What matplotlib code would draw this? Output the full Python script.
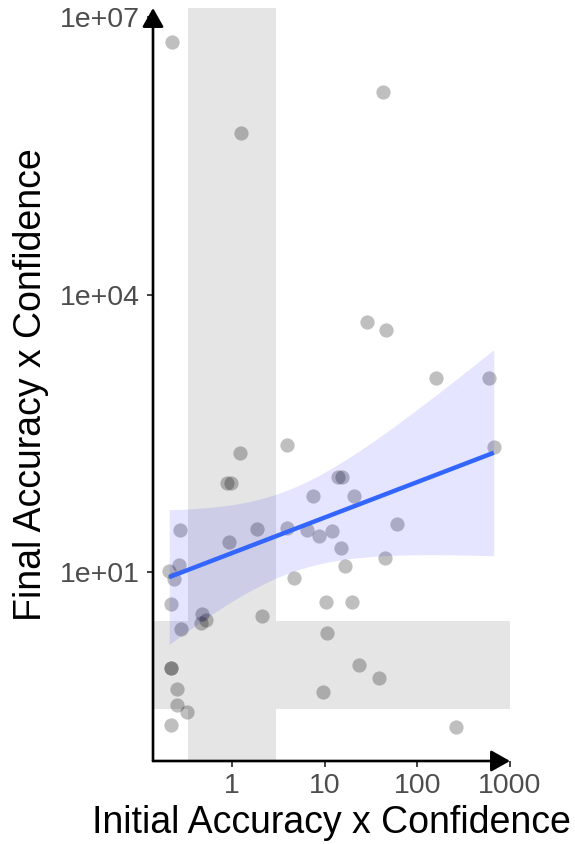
import numpy as np
import matplotlib
matplotlib.use("Agg")
import matplotlib.pyplot as plt
from matplotlib.ticker import FixedLocator, NullLocator

plt.rcParams['font.family'] = ['Liberation Sans', 'DejaVu Sans']

# ---- data ----
initial_acc_conf = [0.225, 1.24, 43, 29, 46, 160, 595, 1.21, 3.87, 0.88,
                    0.98, 14.1, 15.3, 7.5, 0.273, 0.92, 1.88, 3.88, 6.4, 8.76,
                    11.9, 14.9, 0.209, 0.265, 0.235, 4.69, 16.4, 20.8, 60.4, 44.4,
                    673, 0.219, 0.478, 0.466, 0.519, 0.282, 2.11, 0.218, 0.219, 0.252,
                    0.252, 0.325, 0.218, 10.3, 19.7, 10.7, 23.6, 38.8, 9.68, 263]
final_acc_conf = [5.4e6, 5.6e5, 1.56e6, 5100, 4200, 1250, 1250, 193, 238, 92,
                  92, 107, 107, 67, 28.3, 21.3, 29.7, 30.1, 28.8, 24.8,
                  27.9, 18.5, 10.4, 11.9, 8.5, 8.6, 11.7, 66, 32.9, 14.1,
                  224, 4.52, 3.52, 2.84, 3.01, 2.44, 3.37, 0.927, 0.93, 0.541,
                  0.369, 0.308, 0.224, 4.74, 4.74, 2.22, 0.98, 0.723, 0.509, 0.213]

band_low, band_high = 1/3, 3          # shaded "calibration" bands
x_breaks = [1, 10, 100, 1000]
x_labels = ["1", "10", "100", "1000"]
y_breaks = [1e1, 1e4, 1e7]
y_labels = ["1e+01", "1e+04", "1e+07"]
t_crit = 2.0106                       # t(0.975, df=48)

x = np.array(initial_acc_conf)
y = np.array(final_acc_conf)
lx, ly = np.log10(x), np.log10(y)

fig = plt.figure(figsize=(5.75, 8.44), dpi=100)
ax = fig.add_axes([153/575, 83/844, 357/575, 753/844])
ax.set_xscale('log')
ax.set_yscale('log')

def expand(v, f=0.05):
    r = v.max() - v.min()
    return 10**(v.min() - f*r), 10**(v.max() + f*r)

ax.set_xlim(*expand(lx))
ax.set_ylim(*expand(ly))

# shaded bands
ax.axvspan(band_low, band_high, color='#E5E5E5', lw=0, zorder=0)
ax.axhspan(band_low, band_high, color='#E5E5E5', lw=0, zorder=0)

# points
ax.scatter(x, y, s=105, color='black', alpha=0.25, lw=0, zorder=2)

# linear fit in log-log space with 95% CI
n = len(lx)
b, a = np.polyfit(lx, ly, 1)
gx = np.linspace(lx.min(), lx.max(), 200)
gy = a + b*gx
resid = ly - (a + b*lx)
s = np.sqrt(np.sum(resid**2)/(n-2))
se = s*np.sqrt(1/n + (gx - lx.mean())**2/np.sum((lx - lx.mean())**2))
ax.fill_between(10**gx, 10**(gy - t_crit*se), 10**(gy + t_crit*se),
                color='blue', alpha=0.1, lw=0, zorder=3)
ax.plot(10**gx, 10**gy, color='#3366FF', lw=3.2, zorder=4, solid_capstyle='butt')

# axes styling
for sp in ax.spines.values():
    sp.set_visible(False)
ax.xaxis.set_major_locator(FixedLocator(x_breaks))
ax.yaxis.set_major_locator(FixedLocator(y_breaks))
ax.xaxis.set_minor_locator(NullLocator())
ax.yaxis.set_minor_locator(NullLocator())
ax.set_xticklabels(x_labels)
ax.set_yticklabels(y_labels)
ax.tick_params(axis='both', length=4.3, width=1.3, color='#333333',
               labelsize=20.5, labelcolor='#4D4D4D')
ax.tick_params(axis='x', pad=4.5)
ax.tick_params(axis='y', pad=5.5)

arrow_style = '-|>,head_length=1.15,head_width=0.65'
ax.annotate('', xy=(0, 1), xytext=(0, 0), xycoords='axes fraction',
            textcoords='axes fraction',
            arrowprops=dict(arrowstyle=arrow_style, color='black', lw=1.9,
                            shrinkA=0, shrinkB=0), annotation_clip=False)
ax.annotate('', xy=(1, 0), xytext=(0, 0), xycoords='axes fraction',
            textcoords='axes fraction',
            arrowprops=dict(arrowstyle=arrow_style, color='black', lw=1.9,
                            shrinkA=0, shrinkB=0), annotation_clip=False)

fig.text(331/575, 1 - 823/844, "Initial Accuracy x Confidence", fontsize=27,
         ha='center', va='center', color='black')
fig.text(31/575, 1 - 385/844, "Final Accuracy x Confidence", fontsize=27,
         ha='center', va='center', rotation=90, color='black')

fig.savefig('out.png', dpi=100)
